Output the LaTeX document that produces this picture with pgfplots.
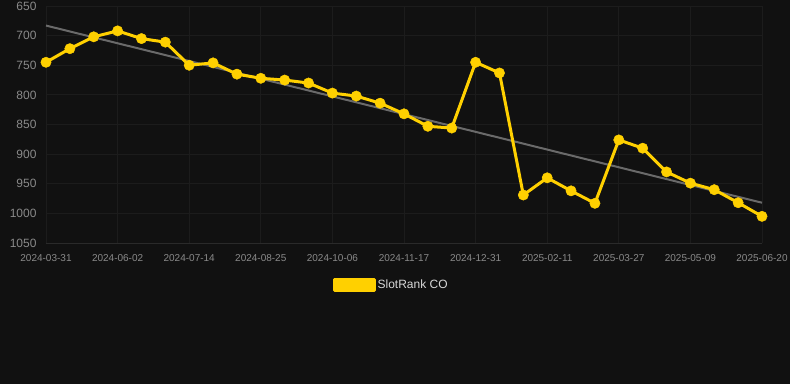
\documentclass[border=0pt]{standalone}
\usepackage{fontspec}
\setmainfont{Liberation Sans}
\usepackage{pgfplots}
\pgfplotsset{compat=1.18}
\definecolor{bg}{HTML}{111111}
\definecolor{gridc}{HTML}{1C1C1C}
\definecolor{axc}{HTML}{2A2A2A}
\definecolor{ylw}{HTML}{FFD000}
\definecolor{trend}{HTML}{6A6A6A}
\definecolor{ticklab}{HTML}{8A8A8A}
\definecolor{legtext}{HTML}{D8D8D8}
\begin{document}
\begin{tikzpicture}
\fill[bg] (0,0) rectangle (790bp,384bp);
\begin{axis}[
  at={(46bp,141bp)}, anchor=south west,
  scale only axis, width=716bp, height=237bp,
  xmin=0, xmax=30, ymin=650, ymax=1050,
  y dir=reverse,
  clip=false,
  ytick={650,700,...,1050},
  xtick={0,3,...,30},
  xticklabels={2024-03-31,2024-06-02,2024-07-14,2024-08-25,2024-10-06,2024-11-17,2024-12-31,2025-02-11,2025-03-27,2025-05-09,2025-06-20},
  grid=major,
  grid style={color=gridc, line width=1bp},
  axis line style={draw=none},
  axis x line*=bottom,
  x axis line style={draw=axc, line width=1bp, -},
  major tick length=0pt,
  /pgf/number format/assume math mode=true,
  /pgf/number format/1000 sep={},
  yticklabel style={font=\fontsize{12bp}{14bp}\selectfont, text=ticklab, xshift=-6bp},
  xticklabel style={font=\fontsize{10bp}{12bp}\selectfont, text=ticklab, yshift=-8bp},
  legend style={at={(0.482,-0.177)}, anchor=center, fill=none, draw=none,
    text=legtext, font=\fontsize{12bp}{14bp}\selectfont},
  legend image code/.code={\fill[ylw, sharp corners] (0bp,-5.5bp) rectangle (40bp,5.5bp);},
]
\addplot[trend, line width=2bp, forget plot] coordinates {(0,683) (30,982)};
\addplot[ylw, line width=3bp, line join=round, mark=*, mark size=5.2bp, mark options={solid, fill=ylw, draw=ylw, line width=0.4bp}] coordinates {
(0,745) (1,722) (2,702) (3,692) (4,705) (5,711) (6,750) (7,746) (8,765) (9,772)
(10,775) (11,780) (12,797) (13,802) (14,814) (15,832) (16,853) (17,856) (18,745) (19,763)
(20,969) (21,940) (22,962) (23,983) (24,876) (25,890) (26,930) (27,949) (28,960) (29,982)
(30,1005)};
\addlegendentry{SlotRank CO}
\end{axis}
\pgfresetboundingbox
\path[use as bounding box] (0,0) rectangle (790bp,384bp);
\end{tikzpicture}
\end{document}
